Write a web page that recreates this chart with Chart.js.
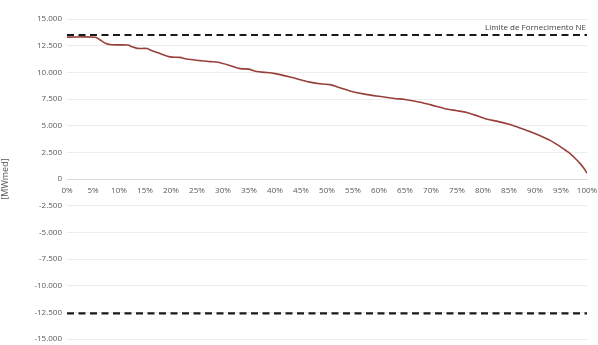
<!DOCTYPE html>
<html>
<head>
<meta charset="utf-8">
<script src="https://cdn.jsdelivr.net/npm/chart.js@4.4.1/dist/chart.umd.min.js"></script>
<style>
  html, body { margin: 0; padding: 0; background: #fff; }
  #wrap { width: 598px; height: 345px; }
</style>
</head>
<body>
<div id="wrap"><canvas id="c"></canvas></div>
<script>
// curva de permanência (% do tempo) x intercâmbio [MWmed]
const pct = [0, 5.4, 6.5, 7.5, 8.6, 11.7, 12.5, 13.5, 15.4, 16, 18, 19.8, 21.7, 23, 25.6, 27.5, 29,
  31.3, 33.3, 35, 36.5, 38, 40, 42.9, 46.7, 49, 50.6, 52.5, 54.4, 57, 60, 63, 65, 67.9, 70, 73, 75,
  76.9, 79, 80.8, 83, 85.2, 87, 89, 91, 92.9, 94.5, 96, 96.7, 97.8, 98.7, 99.4, 100];
const mwmed = [13300, 13290, 13000, 12700, 12580, 12560, 12400, 12250, 12230, 12100, 11750, 11450,
  11400, 11250, 11100, 11000, 10950, 10650, 10350, 10300, 10070, 10000, 9880, 9560, 9080, 8900,
  8850, 8550, 8250, 7980, 7750, 7550, 7450, 7200, 6950, 6560, 6400, 6230, 5900, 5600, 5380, 5100,
  4800, 4450, 4050, 3620, 3150, 2650, 2400, 1900, 1440, 1000, 550];
const limiteSup = 13500;   // Limite de Fornecimento NE
const limiteInf = -12600;
const limiteLabel = "Limite de Fornecimento NE";
const yTicks = [15000, 12500, 10000, 7500, 5000, 2500, 0, -2500, -5000, -7500, -10000, -12500, -15000];

const fmt = v => v === 0 ? "0" : (v < 0 ? "-" : "") + Math.abs(v).toLocaleString("en-US").replace(/,/g, ".");

// texto do limite, acima da linha tracejada, alinhado à direita
const limitText = {
  id: "limitText",
  afterDatasetsDraw(chart) {
    const { ctx, chartArea, scales } = chart;
    ctx.save();
    ctx.font = "8px 'Open Sans'";
    ctx.fillStyle = "#404040";
    ctx.textAlign = "right";
    ctx.textBaseline = "bottom";
    ctx.fillText(limiteLabel, chartArea.right - 1, scales.y.getPixelForValue(limiteSup) - 3);
    ctx.restore();
  }
};

new Chart(document.getElementById("c"), {
  type: "line",
  data: {
    datasets: [
      {
        data: pct.map((p, i) => ({ x: p, y: mwmed[i] })),
        borderColor: "#98403b",
        borderWidth: 1.6,
        pointRadius: 0,
        tension: 0.3,
      },
      {
        data: [{ x: 0, y: limiteSup }, { x: 100, y: limiteSup }],
        borderColor: "#1a1a1a",
        borderWidth: 2.2,
        borderDash: [7, 4.5],
        pointRadius: 0,
      },
      {
        data: [{ x: 0, y: limiteInf }, { x: 100, y: limiteInf }],
        borderColor: "#1a1a1a",
        borderWidth: 2.2,
        borderDash: [7, 4.5],
        pointRadius: 0,
      },
    ],
  },
  options: {
    responsive: true,
    maintainAspectRatio: false,
    animation: false,
    layout: { padding: { top: 19, right: 11, bottom: 6, left: 0 } },
    plugins: { legend: { display: false }, tooltip: { enabled: false } },
    scales: {
      x: {
        type: "linear",
        min: 0,
        max: 100,
        position: { y: 0 },
        afterFit: s => { s.paddingLeft = 0; s.paddingRight = 0; },
        grid: { display: false, drawTicks: false },
        border: { color: "#d9d9d9" },
        ticks: {
          stepSize: 5,
          padding: 7,
          maxRotation: 0,
          autoSkip: false,
          color: "#595959",
          font: { family: "'Open Sans'", size: 8 },
          callback: v => v + "%",
        },
      },
      y: {
        min: -15000,
        max: 15000,
        afterBuildTicks: s => { s.ticks = yTicks.map(v => ({ value: v })); },
        afterFit: s => { s.width = 67; s.paddingTop = 0; s.paddingBottom = 0; },
        grid: { color: "#ececec", drawTicks: false },
        border: { display: false },
        ticks: {
          padding: 5,
          color: "#595959",
          font: { family: "'Open Sans'", size: 8 },
          callback: v => fmt(v),
        },
        title: {
          display: true,
          text: "[MWmed]",
          color: "#595959",
          font: { family: "'Open Sans'", size: 9 },
          padding: 0,
        },
      },
    },
  },
  plugins: [limitText],
});
</script>
</body>
</html>
